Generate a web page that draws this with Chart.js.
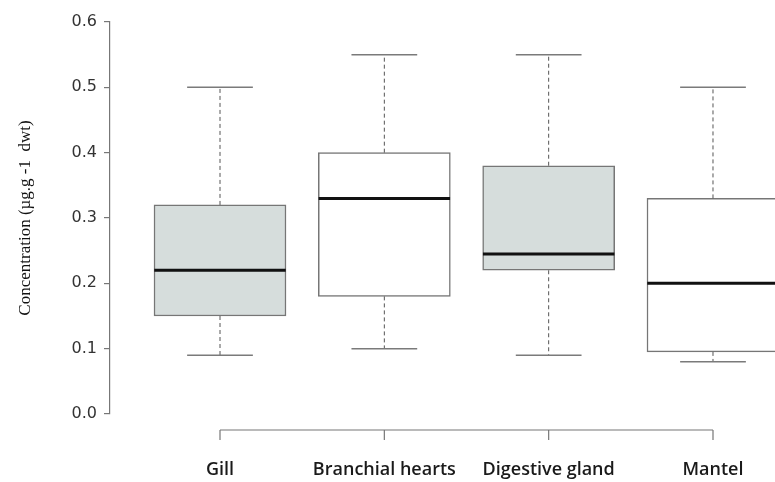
<!DOCTYPE html>
<html lang="en">
<head>
    <meta charset="UTF-8">
    <title>Concentration box plot</title>
    <script src="https://cdn.jsdelivr.net/npm/chart.js"></script>
    <style>
        body {
            margin: 0;
            background: #ffffff;
        }
        .wrap {
            width: 775px;
            height: 482px;
        }
    </style>
</head>
<body>
    <div class="wrap"><canvas id="boxChart" width="775" height="482"></canvas></div>

    <script>
        // values
        const categories = ['Gill', 'Branchial hearts', 'Digestive gland', 'Mantel'];
        const whiskerLow = [0.09, 0.10, 0.09, 0.08];
        const q1 = [0.15, 0.18, 0.22, 0.095];
        const median = [0.22, 0.33, 0.245, 0.20];
        const q3 = [0.32, 0.40, 0.38, 0.33];
        const whiskerHigh = [0.50, 0.55, 0.55, 0.50];

        const boxFill = ['#d6dddc', '#ffffff', '#d6dddc', '#ffffff'];

        // build segment lists for the line datasets
        const whiskerPts = [];
        const capPts = [];
        const medianPts = [];
        categories.forEach((c, i) => {
            const x = i + 1;
            whiskerPts.push({ x: x, y: q3[i] }, { x: x, y: whiskerHigh[i] }, { x: x, y: null });
            whiskerPts.push({ x: x, y: q1[i] }, { x: x, y: whiskerLow[i] }, { x: x, y: null });
            capPts.push({ x: x - 0.2, y: whiskerHigh[i] }, { x: x + 0.2, y: whiskerHigh[i] }, { x: x, y: null });
            capPts.push({ x: x - 0.2, y: whiskerLow[i] }, { x: x + 0.2, y: whiskerLow[i] }, { x: x, y: null });
            medianPts.push({ x: x - 0.4, y: median[i] }, { x: x + 0.4, y: median[i] }, { x: x, y: null });
        });

        // R style bottom axis: line only from first to last tick
        const rAxisPlugin = {
            id: 'rAxis',
            afterDraw(chart) {
                const xs = chart.scales.x;
                const ctx = chart.ctx;
                const y0 = 430;
                const first = xs.getPixelForValue(1);
                const last = xs.getPixelForValue(categories.length);
                ctx.save();
                ctx.strokeStyle = '#777777';
                ctx.lineWidth = 1.2;
                ctx.beginPath();
                ctx.moveTo(first, y0);
                ctx.lineTo(last, y0);
                categories.forEach((c, i) => {
                    const px = xs.getPixelForValue(i + 1);
                    ctx.moveTo(px, y0);
                    ctx.lineTo(px, y0 + 10);
                });
                ctx.stroke();
                ctx.restore();
            }
        };

        const ctx = document.getElementById('boxChart').getContext('2d');
        new Chart(ctx, {
            type: 'bar',
            data: {
                datasets: [
                    {
                        type: 'line',
                        data: medianPts,
                        borderColor: '#111111',
                        borderWidth: 3,
                        pointRadius: 0,
                        spanGaps: false,
                        order: 1
                    },
                    {
                        type: 'line',
                        data: capPts,
                        borderColor: '#7a7a7a',
                        borderWidth: 1.5,
                        pointRadius: 0,
                        spanGaps: false,
                        order: 2
                    },
                    {
                        type: 'line',
                        data: whiskerPts,
                        borderColor: '#555555',
                        borderWidth: 1,
                        borderDash: [4, 3],
                        pointRadius: 0,
                        spanGaps: false,
                        order: 2
                    },
                    {
                        type: 'bar',
                        data: categories.map((c, i) => ({ x: i + 1, y: [q1[i], q3[i]] })),
                        backgroundColor: boxFill,
                        borderColor: '#767676',
                        borderWidth: 1.5,
                        borderSkipped: false,
                        barThickness: 132,
                        order: 3
                    }
                ]
            },
            options: {
                responsive: false,
                animation: false,
                layout: { padding: { top: 22, right: 0, bottom: 0, left: 0 } },
                plugins: {
                    legend: { display: false },
                    tooltip: { enabled: false }
                },
                scales: {
                    x: {
                        type: 'linear',
                        offset: false,
                        min: 0.3306,
                        max: 4.3773,
                        grid: { display: false, drawTicks: false },
                        border: { display: false },
                        afterBuildTicks(scale) {
                            scale.ticks = categories.map((c, i) => ({ value: i + 1 }));
                        },
                        afterFit(scale) {
                            scale.height = 68;
                            scale.paddingLeft = 0;
                            scale.paddingRight = 0;
                        },
                        ticks: {
                            autoSkip: false,
                            maxRotation: 0,
                            padding: 45,
                            color: '#1a1a1a',
                            font: { family: 'Open Sans', size: 18, weight: '600' },
                            callback: (v) => categories[Math.round(v) - 1] || ''
                        }
                    },
                    y: {
                        min: 0,
                        max: 0.6,
                        afterFit(scale) { scale.width = 110; },
                        grid: { drawOnChartArea: false, drawTicks: true, tickLength: 6, color: '#777777', lineWidth: 1.2 },
                        border: { display: true, color: '#777777', width: 1.2 },
                        ticks: {
                            stepSize: 0.1,
                            padding: 7,
                            color: '#333333',
                            font: { family: 'DejaVu Sans', size: 16 },
                            callback: (v) => v.toFixed(1)
                        },
                        title: {
                            display: true,
                            text: 'Concentration (µg.g -1  dwt)',
                            color: '#111111',
                            padding: { top: 15, bottom: 0 },
                            font: { family: 'Liberation Serif', size: 17 }
                        }
                    }
                }
            },
            plugins: [rAxisPlugin]
        });
    </script>
</body>
</html>
